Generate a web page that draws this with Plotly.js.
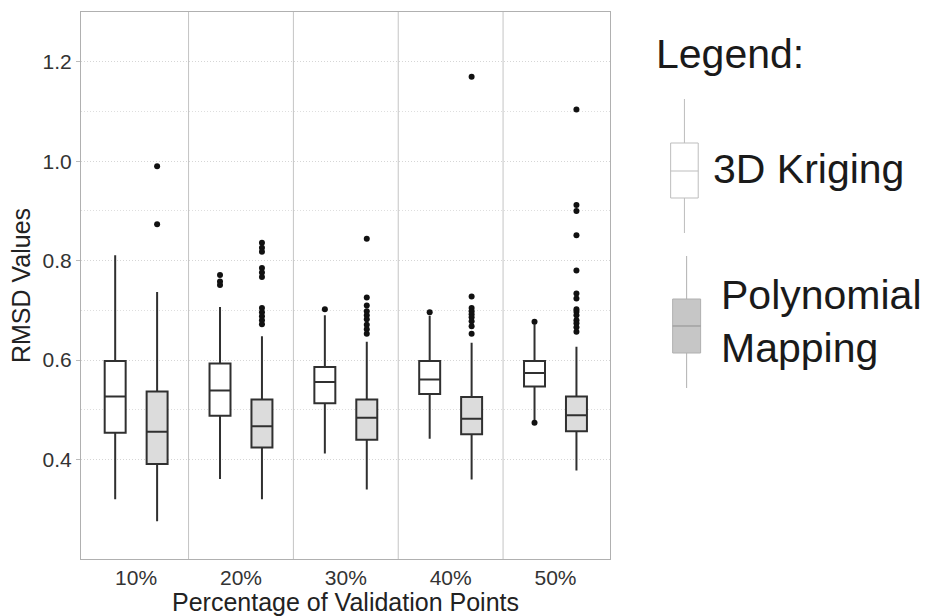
<!DOCTYPE html>
<html>
<head>
<meta charset="utf-8">
<script src="https://cdn.plot.ly/plotly-3.0.1.min.js"></script>
<style>html,body{margin:0;padding:0;background:#fff;}#chart{width:940px;height:616px;}</style>
</head>
<body>
<div id="chart"></div>
<script>
// ---- data ----
var categories = ['10%', '20%', '30%', '40%', '50%'];

var krigQ1  = [0.454, 0.488, 0.513, 0.532, 0.547];
var krigMed = [0.527, 0.539, 0.556, 0.561, 0.574];
var krigQ3  = [0.598, 0.593, 0.586, 0.598, 0.598];
var krigLo  = [0.320, 0.361, 0.412, 0.442, 0.478];
var krigHi  = [0.811, 0.707, 0.690, 0.689, 0.672];
var krigOut = [[], [0.771, 0.758, 0.751], [0.702], [0.696], [0.677, 0.474]];

var polyQ1  = [0.391, 0.424, 0.440, 0.451, 0.457];
var polyMed = [0.456, 0.467, 0.484, 0.482, 0.489];
var polyQ3  = [0.537, 0.521, 0.521, 0.526, 0.527];
var polyLo  = [0.276, 0.320, 0.340, 0.360, 0.378];
var polyHi  = [0.737, 0.648, 0.637, 0.635, 0.627];
var polyOut = [
  [0.990, 0.873],
  [0.836, 0.826, 0.818, 0.785, 0.776, 0.767, 0.705, 0.696, 0.688, 0.680, 0.672],
  [0.844, 0.726, 0.710, 0.698, 0.690, 0.682, 0.671, 0.662, 0.653],
  [1.170, 0.728, 0.705, 0.698, 0.692, 0.686, 0.678, 0.668, 0.653],
  [1.104, 0.912, 0.900, 0.851, 0.780, 0.734, 0.724, 0.702, 0.697, 0.690, 0.680, 0.674, 0.666, 0.657]
];

var yTicks = [0.4, 0.6, 0.8, 1.0, 1.2];
var yMinorTicks = [0.5, 0.7, 0.9, 1.1];

var legendTitle = 'Legend:';
var seriesNames = ['3D Kriging', 'Polynomial<br>Mapping'];

// ---- layout constants ----
var W = 940, H = 616;
var M = {l: 80.5, r: 330, t: 12, b: 57};
var OFF = 0.2, BW = 0.2;
var FONT = 'Liberation Sans, Arial, Helvetica, sans-serif';
function px(x) { return (x - M.l) / (W - M.l - M.r); }
function py(y) { return (H - M.b - y) / (H - M.t - M.b); }

var idx = categories.map(function (c, i) { return i; });

function outlierXY(outs, off) {
  var xs = [], ys = [];
  outs.forEach(function (arr, i) {
    arr.forEach(function (v) { xs.push(i + off); ys.push(v); });
  });
  return {x: xs, y: ys};
}
var ko = outlierXY(krigOut, -OFF), po = outlierXY(polyOut, OFF);

var boxLine = {color: '#303030', width: 2};
var traces = [
  {type: 'box', name: '3D Kriging', x: idx.map(function (i) { return i - OFF; }),
   q1: krigQ1, median: krigMed, q3: krigQ3, lowerfence: krigLo, upperfence: krigHi,
   width: BW, whiskerwidth: 0, boxpoints: false, fillcolor: '#ffffff', line: boxLine,
   hoverinfo: 'skip', showlegend: false},
  {type: 'box', name: 'Polynomial Mapping', x: idx.map(function (i) { return i + OFF; }),
   q1: polyQ1, median: polyMed, q3: polyQ3, lowerfence: polyLo, upperfence: polyHi,
   width: BW, whiskerwidth: 0, boxpoints: false, fillcolor: '#dcdcdc', line: boxLine,
   hoverinfo: 'skip', showlegend: false},
  {type: 'scatter', mode: 'markers', x: ko.x, y: ko.y,
   marker: {color: '#111111', size: 6}, hoverinfo: 'skip', showlegend: false},
  {type: 'scatter', mode: 'markers', x: po.x, y: po.y,
   marker: {color: '#111111', size: 6}, hoverinfo: 'skip', showlegend: false}
];

var shapes = [];
for (var s = 0; s < categories.length - 1; s++) {
  shapes.push({type: 'line', xref: 'x', yref: 'paper', x0: s + 0.5, x1: s + 0.5, y0: 0, y1: 1,
    line: {color: '#c4c4c4', width: 1}, layer: 'below'});
}
// custom legend glyphs (paper coords)
function glyph(x0, x1, yTop, yQ3, yMed, yQ1, yBot, fill, lc, mc) {
  var xc = (x0 + x1) / 2;
  shapes.push({type: 'line', xref: 'paper', yref: 'paper', x0: px(xc), x1: px(xc), y0: py(yTop), y1: py(yQ3), line: {color: lc, width: 1}});
  shapes.push({type: 'line', xref: 'paper', yref: 'paper', x0: px(xc), x1: px(xc), y0: py(yQ1), y1: py(yBot), line: {color: lc, width: 1}});
  shapes.push({type: 'rect', xref: 'paper', yref: 'paper', x0: px(x0), x1: px(x1), y0: py(yQ1), y1: py(yQ3), fillcolor: fill, line: {color: lc, width: 1}});
  shapes.push({type: 'line', xref: 'paper', yref: 'paper', x0: px(x0), x1: px(x1), y0: py(yMed), y1: py(yMed), line: {color: mc, width: 1}});
}
glyph(670.7, 698.3, 99, 143, 171, 198, 233, '#ffffff', '#bdbdbd', '#bdbdbd');
glyph(672.7, 700.7, 256, 299, 326, 353, 388, '#c6c6c6', '#b0b0b0', '#8f8f8f');

var LF = 41;
var annotations = [
  {text: legendTitle, x: px(654), y: py(54), xref: 'paper', yref: 'paper', xanchor: 'left', yanchor: 'middle', showarrow: false, font: {family: FONT, size: LF, color: '#1a1a1a'}},
  {text: seriesNames[0], x: px(711), y: py(169), xref: 'paper', yref: 'paper', xanchor: 'left', yanchor: 'middle', showarrow: false, font: {family: FONT, size: LF, color: '#1a1a1a'}},
  {text: seriesNames[1], x: px(719), y: py(322), xref: 'paper', yref: 'paper', xanchor: 'left', yanchor: 'middle', align: 'left', showarrow: false, font: {family: FONT, size: LF, color: '#1a1a1a'}}
];

var layout = {
  width: W, height: H,
  margin: M,
  paper_bgcolor: '#ffffff', plot_bgcolor: '#ffffff',
  font: {family: FONT, color: '#333333'},
  showlegend: false,
  xaxis: {
    range: [-0.526, 4.52], tickvals: idx, ticktext: categories,
    showgrid: false, zeroline: false, showline: true, mirror: true, linecolor: '#b0b0b0', linewidth: 1,
    ticks: '', tickfont: {size: 21, color: '#333333'},
    title: {text: 'Percentage of Validation Points', font: {size: 25, color: '#222222'}, standoff: 4},
    automargin: false, fixedrange: true
  },
  yaxis: {
    range: [0.2, 1.3], tickvals: yTicks, tickformat: '.1f',
    showgrid: true, gridcolor: '#d6d6d6', griddash: '1px,2px', gridwidth: 1,
    minor: {tickvals: yMinorTicks, showgrid: true, gridcolor: '#dedede', griddash: '1px,2px', gridwidth: 1},
    zeroline: false, showline: true, mirror: true, linecolor: '#b0b0b0', linewidth: 1,
    ticks: 'outside', ticklen: 4, tickcolor: '#bbbbbb', tickwidth: 1,
    tickfont: {size: 21, color: '#333333'},
    title: {text: 'RMSD Values', font: {size: 25, color: '#222222'}, standoff: 4},
    automargin: false, fixedrange: true
  },
  shapes: shapes,
  annotations: annotations
};

Plotly.newPlot('chart', traces, layout, {displayModeBar: false, staticPlot: true});
</script>
</body>
</html>
